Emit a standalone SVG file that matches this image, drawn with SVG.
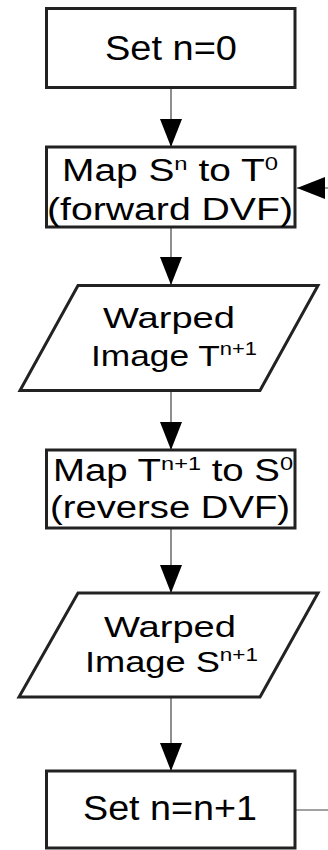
<svg xmlns="http://www.w3.org/2000/svg" width="328" height="850" viewBox="0 0 328 850">
<style>
.box{fill:#fff;stroke:#222;stroke-width:3}
.t{font-family:"Liberation Sans",Arial,sans-serif;fill:#000}
.big{font-size:35px}
.mid{font-size:31px}
.sm{font-size:29px}
.conn{fill:none;stroke:#444;stroke-width:1.2}
</style>
<defs>
<marker id="ah" markerUnits="userSpaceOnUse" markerWidth="28" markerHeight="22" refX="28" refY="11" orient="auto">
<path d="M0,0 L28,11 L0,22 Z" fill="#000"/>
</marker>
</defs>
<g id="connectors">
<path class="conn" d="M171,88 V147" marker-end="url(#ah)"/>
<path class="conn" d="M171,227 V285" marker-end="url(#ah)"/>
<path class="conn" d="M171,391 V450" marker-end="url(#ah)"/>
<path class="conn" d="M171,528 V593" marker-end="url(#ah)"/>
<path class="conn" d="M171,697 V771" marker-end="url(#ah)"/>
<path class="conn" d="M296,810 H345 V188 H297" marker-end="url(#ah)"/>
</g>
<g id="n1">
<rect class="box" x="46.5" y="8.5" width="248.5" height="79"/>
<text class="t big" x="105" y="60" textLength="132" lengthAdjust="spacingAndGlyphs">Set n=0</text>
</g>
<g id="n2">
<rect class="box" x="46.5" y="147" width="248.5" height="80"/>
<text class="t mid" x="62" y="181" textLength="216" lengthAdjust="spacingAndGlyphs">Map S<tspan font-size="19" dy="-11">n</tspan><tspan dy="11"> to T</tspan><tspan font-size="19" dy="-11">0</tspan></text>
<text class="t mid" x="47" y="220" textLength="246" lengthAdjust="spacingAndGlyphs">(forward DVF)</text>
</g>
<g id="n3">
<polygon class="box" points="78,285.5 318,285.5 260,390.5 20,390.5"/>
<text class="t sm" x="103" y="328" textLength="132" lengthAdjust="spacingAndGlyphs">Warped</text>
<text class="t sm" x="91" y="366" textLength="166" lengthAdjust="spacingAndGlyphs">Image T<tspan font-size="18" dy="-11">n+1</tspan></text>
</g>
<g id="n4">
<rect class="box" x="46.5" y="450" width="248.5" height="78"/>
<text class="t mid" x="53" y="481" textLength="240" lengthAdjust="spacingAndGlyphs">Map T<tspan font-size="19" dy="-11">n+1</tspan><tspan dy="11"> to S</tspan><tspan font-size="19" dy="-11">0</tspan></text>
<text class="t mid" x="50" y="518" textLength="240" lengthAdjust="spacingAndGlyphs">(reverse DVF)</text>
</g>
<g id="n5">
<polygon class="box" points="78,593 318,593 260,697 19,697"/>
<text class="t sm" x="104" y="637" textLength="132" lengthAdjust="spacingAndGlyphs">Warped</text>
<text class="t sm" x="85" y="672" textLength="173" lengthAdjust="spacingAndGlyphs">Image S<tspan font-size="18" dy="-11">n+1</tspan></text>
</g>
<g id="n6">
<rect class="box" x="46.5" y="771" width="248.5" height="77"/>
<text class="t big" x="83" y="820" textLength="174" lengthAdjust="spacingAndGlyphs">Set n=n+1</text>
</g>
</svg>
